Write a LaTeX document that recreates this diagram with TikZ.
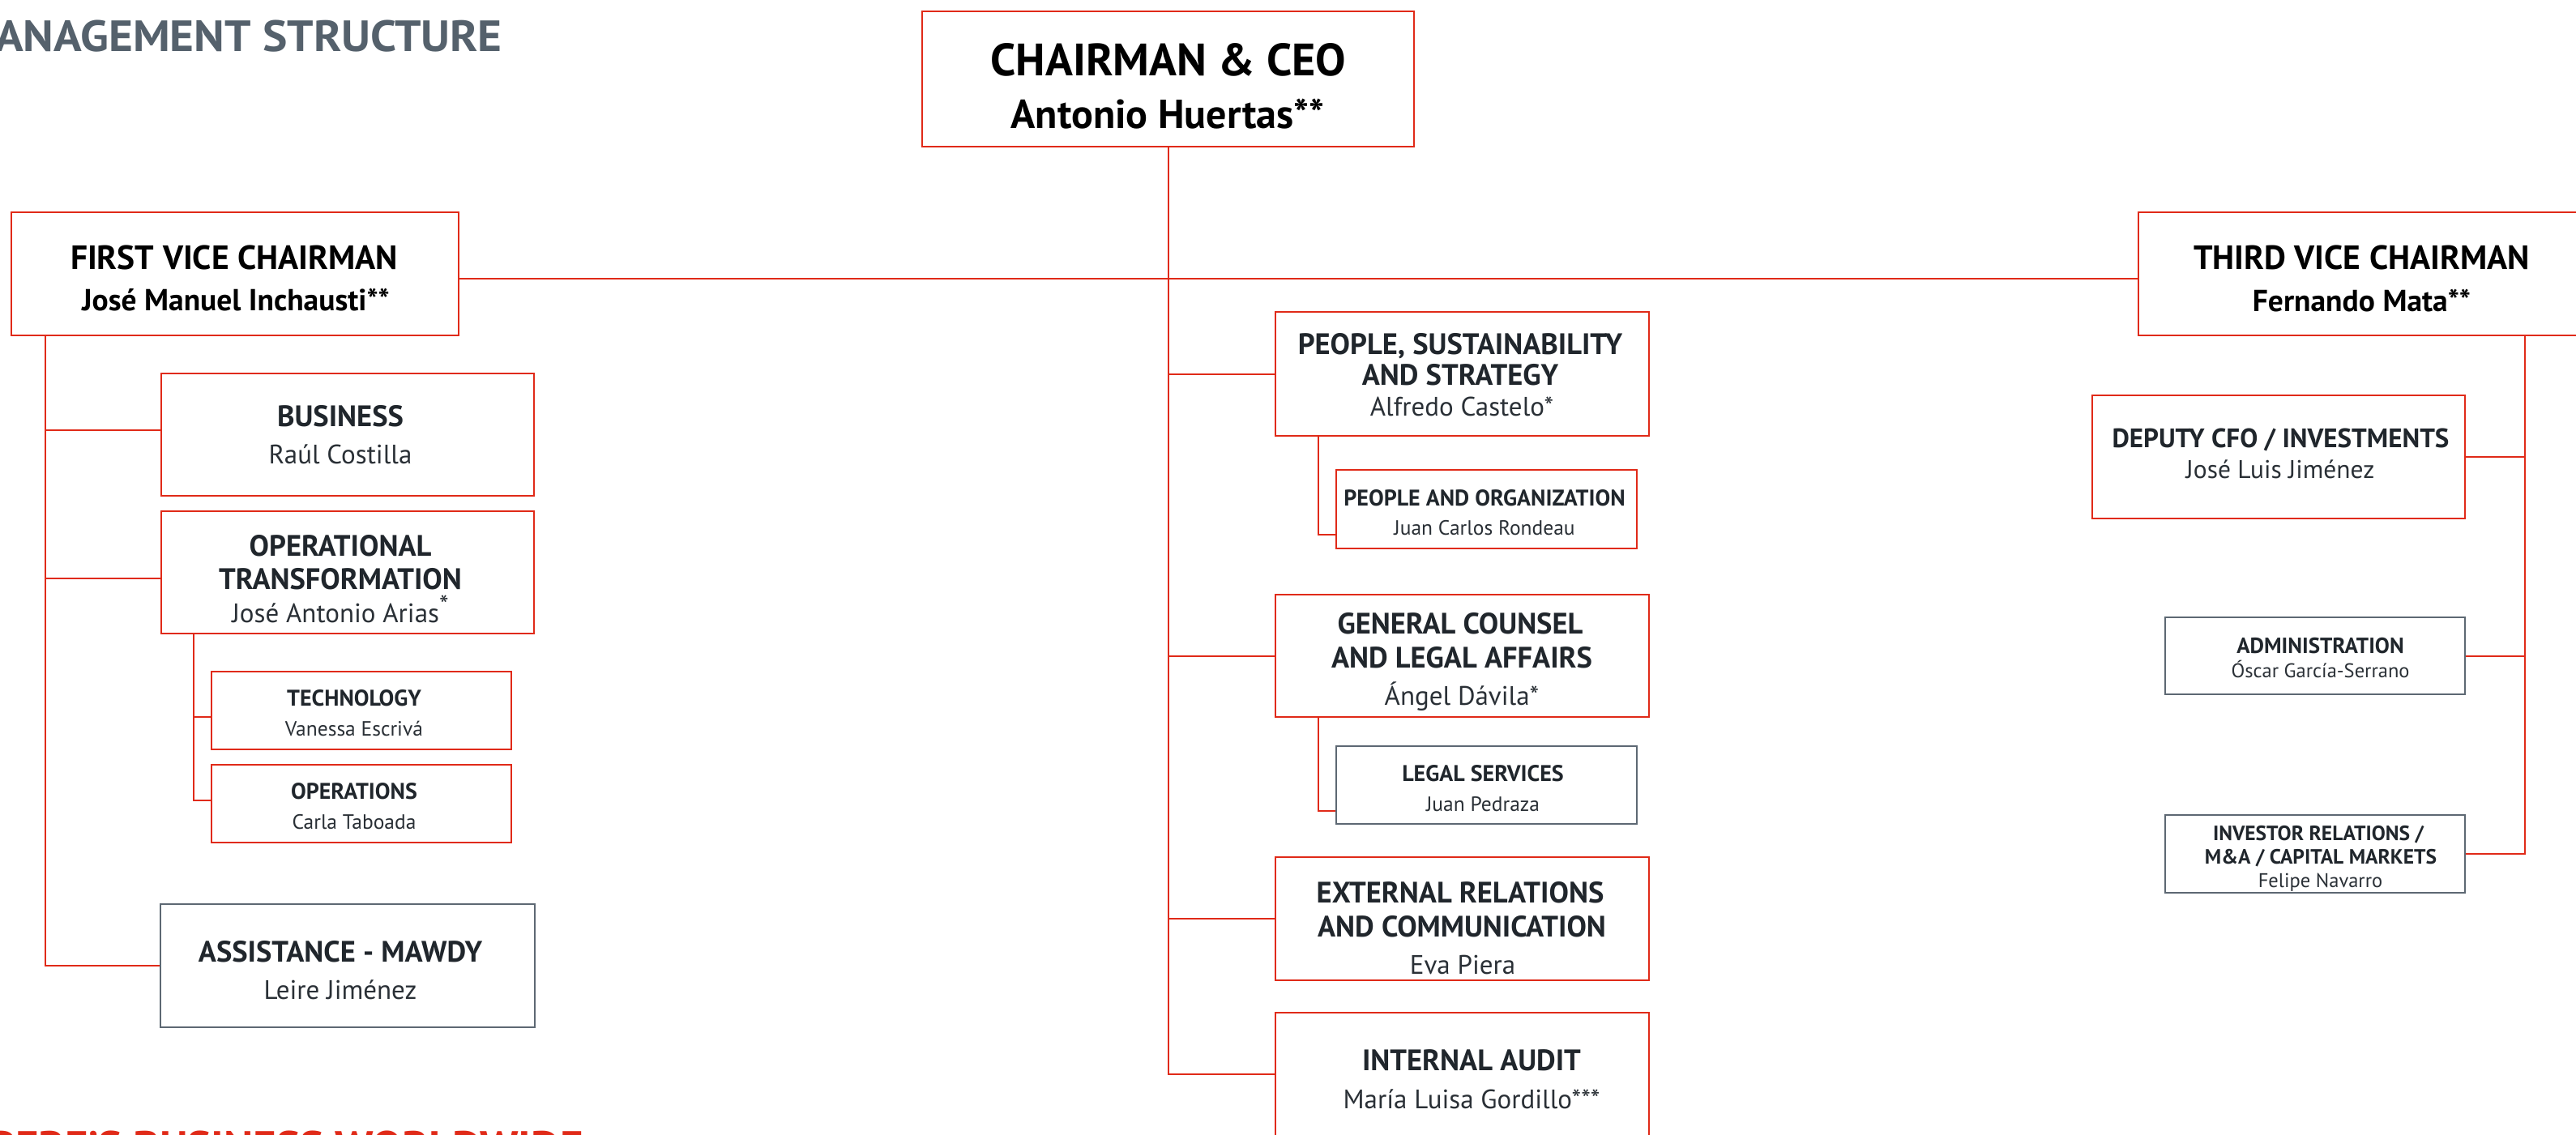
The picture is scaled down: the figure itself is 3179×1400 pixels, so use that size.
\documentclass[tikz,border=0pt]{standalone}
\usepackage{graphicx}
\usepackage{fontspec}
\setmainfont{PT Sans}
\definecolor{mred}{HTML}{E02A18}
\definecolor{mgray}{HTML}{5D6873}
\definecolor{mdark}{HTML}{20262C}
\definecolor{mname}{HTML}{2A3036}
\definecolor{mtitle}{HTML}{55616C}
\begin{document}
\begin{tikzpicture}[x=1pt,y=-1pt,
  box/.style={draw=mred, line width=2.4pt, fill=white, inner sep=0pt},
  gbox/.style={box, draw=mgray},
  link/.style={draw=mred, line width=2pt},
  lbl/.style={anchor=base, inner sep=0pt, text=mdark},
  hXL/.style={lbl, text=black, font=\fontsize{56}{60}\selectfont\bfseries},
  nXL/.style={lbl, text=black, font=\fontsize{50}{54}\selectfont\bfseries},
  hL/.style={lbl, text=black, font=\fontsize{41.5}{44}\selectfont\bfseries},
  nL/.style={lbl, text=black, font=\fontsize{37.5}{40}\selectfont\bfseries},
  hM/.style={lbl, font=\fontsize{36.5}{40}\selectfont\bfseries},
  nM/.style={lbl, text=mname, font=\fontsize{33}{40}\selectfont},
  hD/.style={lbl, font=\fontsize{33}{36}\selectfont\bfseries},
  nD/.style={lbl, text=mname, font=\fontsize{31.5}{36}\selectfont},
  hS/.style={lbl, font=\fontsize{28}{32}\selectfont\bfseries},
  nS/.style={lbl, text=mname, font=\fontsize{25.5}{30}\selectfont},
  hXS/.style={lbl, font=\fontsize{25.5}{30}\selectfont\bfseries},
  nXS/.style={lbl, text=mname, font=\fontsize{24.5}{28}\selectfont},
  bigtitle/.style={anchor=base east, inner sep=0pt, font=\fontsize{54}{58}\selectfont\bfseries}
]
\path[use as bounding box] (0,0) rectangle (3179,1400);
\clip (0,0) rectangle (3179,1400);

% ---------- box positions ----------
\path
  node[box, minimum width=607pt, minimum height=167pt] (ceo) at (1441.5,97.5) {}
  node[box, minimum width=552pt, minimum height=152pt] (fvc) at (290,338) {}
  node[box, minimum width=552pt, minimum height=152pt] (tvc) at (2915,338) {}
  node[box, minimum width=460pt, minimum height=151pt] (bus) at (429,536.5) {}
  node[box, minimum width=460pt, minimum height=151pt] (ot) at (429,706.5) {}
  node[box, minimum width=370pt, minimum height=96pt] (tech) at (446,877) {}
  node[box, minimum width=370pt, minimum height=96pt] (ops) at (446,992) {}
  node[gbox, minimum width=462pt, minimum height=152pt] (asst) at (429,1192) {}
  node[box, minimum width=461pt, minimum height=153pt] (pss) at (1804.5,461.5) {}
  node[box, minimum width=371pt, minimum height=97pt] (po) at (1834.5,628.5) {}
  node[box, minimum width=461pt, minimum height=151pt] (gc) at (1804.5,809.5) {}
  node[gbox, minimum width=371pt, minimum height=96pt] (ls) at (1834.5,969) {}
  node[box, minimum width=461pt, minimum height=152pt] (erc) at (1804.5,1134) {}
  node[box, minimum width=461pt, minimum height=152pt] (ia) at (1804.5,1326) {}
  node[box, minimum width=460pt, minimum height=152pt] (dcfo) at (2812,564) {}
  node[gbox, minimum width=370pt, minimum height=95pt] (adm) at (2857,809.5) {}
  node[gbox, minimum width=370pt, minimum height=96pt] (ir) at (2857,1054) {};

% ---------- connectors ----------
\coordinate (hub) at (1441.5,344);
\coordinate (fl) at ([xshift=43pt]fvc.south west);
\coordinate (ol) at ([xshift=41pt]ot.south west);
\coordinate (pl) at ([xshift=54pt]pss.south west);
\coordinate (gl) at ([xshift=54pt]gc.south west);
\coordinate (tl) at ([xshift=478pt]tvc.south west);
\coordinate (busin) at ([yshift=6pt]bus.west);
\coordinate (otin) at ([yshift=-7.5pt]ot.west);
\coordinate (techin) at ([yshift=-7.5pt]tech.west);
\coordinate (opsin) at ([yshift=4pt]ops.west);
\coordinate (poin) at ([yshift=18pt]po.south west);
\coordinate (lsin) at ([yshift=17pt]ls.south west);

\draw[link] (ceo.south) -- (ceo.south |- ia.west) -- (ia.west);
\draw[link] (fvc.east |- hub) -- (tvc.west |- hub);
\draw[link] (ceo.south |- pss.west) -- (pss.west);
\draw[link] (ceo.south |- gc.west) -- (gc.west);
\draw[link] (ceo.south |- erc.west) -- (erc.west);
\draw[link] (fl) -- (fl |- asst.west) -- (asst.west);
\draw[link] (fl |- busin) -- (busin);
\draw[link] (fl |- otin) -- (otin);
\draw[link] (ol) -- (ol |- opsin) -- (opsin);
\draw[link] (ol |- techin) -- (techin);
\draw[link] (pl) -- (pl |- poin) -- (poin);
\draw[link] (gl) -- (gl |- lsin) -- (lsin);
\draw[link] (tl) -- (tl |- ir.east) -- (ir.east);
\draw[link] (tl |- dcfo.east) -- (dcfo.east);
\draw[link] (tl |- adm.east) -- (adm.east);

% boxes drawn above the connectors
\path
  node[box, minimum width=607pt, minimum height=167pt] at (ceo) {}
  node[box, minimum width=552pt, minimum height=152pt] at (fvc) {}
  node[box, minimum width=552pt, minimum height=152pt] at (tvc) {}
  node[box, minimum width=460pt, minimum height=151pt] at (bus) {}
  node[box, minimum width=460pt, minimum height=151pt] at (ot) {}
  node[box, minimum width=370pt, minimum height=96pt] at (tech) {}
  node[box, minimum width=370pt, minimum height=96pt] at (ops) {}
  node[gbox, minimum width=462pt, minimum height=152pt] at (asst) {}
  node[box, minimum width=461pt, minimum height=153pt] at (pss) {}
  node[box, minimum width=371pt, minimum height=97pt] at (po) {}
  node[box, minimum width=461pt, minimum height=151pt] at (gc) {}
  node[gbox, minimum width=371pt, minimum height=96pt] at (ls) {}
  node[box, minimum width=461pt, minimum height=152pt] at (erc) {}
  node[box, minimum width=461pt, minimum height=152pt] at (ia) {}
  node[box, minimum width=460pt, minimum height=152pt] at (dcfo) {}
  node[gbox, minimum width=370pt, minimum height=95pt] at (adm) {}
  node[gbox, minimum width=370pt, minimum height=96pt] at (ir) {};

% ---------- texts ----------
\node[bigtitle, text=mtitle] (title) at (620,63) {\scalebox{1.06}[1]{MANAGEMENT STRUCTURE}};
\node[bigtitle, text=mred] (foot) at (720,1434) {\scalebox{1.02}[1]{MAPFRE'S BUSINESS WORLDWIDE}};

\node[hXL] (ceo1) at (1442,93) {CHAIRMAN \& CEO};
\node[nXL] (ceo2) at (1441,158) {Antonio Huertas**};
\node[hL] (fvc1) at (289,332) {FIRST VICE CHAIRMAN};
\node[nL] (fvc2) at (291,383) {José Manuel Inchausti**};
\node[hL] (tvc1) at (2914.5,332) {THIRD VICE CHAIRMAN};
\node[nL] (tvc2) at (2914.5,384) {Fernando Mata**};

\node[hM] (bus1) at (420,526) {BUSINESS};
\node[nM] (bus2) at (420,572) {Raúl Costilla};
\node[hM] (ot1) at (420,686) {OPERATIONAL};
\node[hM] (ot2) at (420,727) {TRANSFORMATION};
\node[nM] (ot3) at (420,768) {José Antonio Arias\raisebox{10pt}{*}};
\node[hS] (tech1) at (437,871) {TECHNOLOGY};
\node[nS] (tech2) at (437,908) {Vanessa Escrivá};
\node[hS] (ops1) at (437,986) {OPERATIONS};
\node[nS] (ops2) at (437,1023) {Carla Taboada};
\node[hM] (asst1) at (420,1187) {ASSISTANCE - MAWDY};
\node[nM] (asst2) at (420,1233) {Leire Jiménez};

\node[hM] (pss1) at (1802,437) {PEOPLE, SUSTAINABILITY};
\node[hM] (pss2) at (1802,475) {AND STRATEGY};
\node[nM] (pss3) at (1804,513) {Alfredo Castelo*};
\node[hS] (po1) at (1832,624) {PEOPLE AND ORGANIZATION};
\node[nS] (po2) at (1832,660) {Juan Carlos Rondeau};
\node[hM] (gc1) at (1802,782) {GENERAL COUNSEL};
\node[hM] (gc2) at (1804,824) {AND LEGAL AFFAIRS};
\node[nM] (gc3) at (1804,870) {Ángel Dávila*};
\node[hS] (ls1) at (1830,964) {LEGAL SERVICES};
\node[nS] (ls2) at (1830,1001) {Juan Pedraza};
\node[hM] (erc1) at (1802,1114) {EXTERNAL RELATIONS};
\node[hM] (erc2) at (1804,1156) {AND COMMUNICATION};
\node[nM] (erc3) at (1805,1202) {Eva Piera};
\node[hM] (ia1) at (1816,1321) {INTERNAL AUDIT};
\node[nM] (ia2) at (1816,1368) {María Luisa Gordillo***};

\node[hD] (dcfo1) at (2814.5,552) {DEPUTY CFO / INVESTMENTS};
\node[nD] (dcfo2) at (2814,590) {José Luis Jiménez};
\node[hXS, font=\fontsize{27}{30}\selectfont\bfseries] (adm1) at (2863.5,806) {ADMINISTRATION};
\node[nXS] (adm2) at (2863.5,836) {Óscar García-Serrano};
\node[hXS] (ir1) at (2861,1037) {INVESTOR RELATIONS /};
\node[hXS] (ir2) at (2864,1066) {M\&A / CAPITAL MARKETS};
\node[nXS] (ir3) at (2863.5,1095) {Felipe Navarro};
\end{tikzpicture}
\end{document}
